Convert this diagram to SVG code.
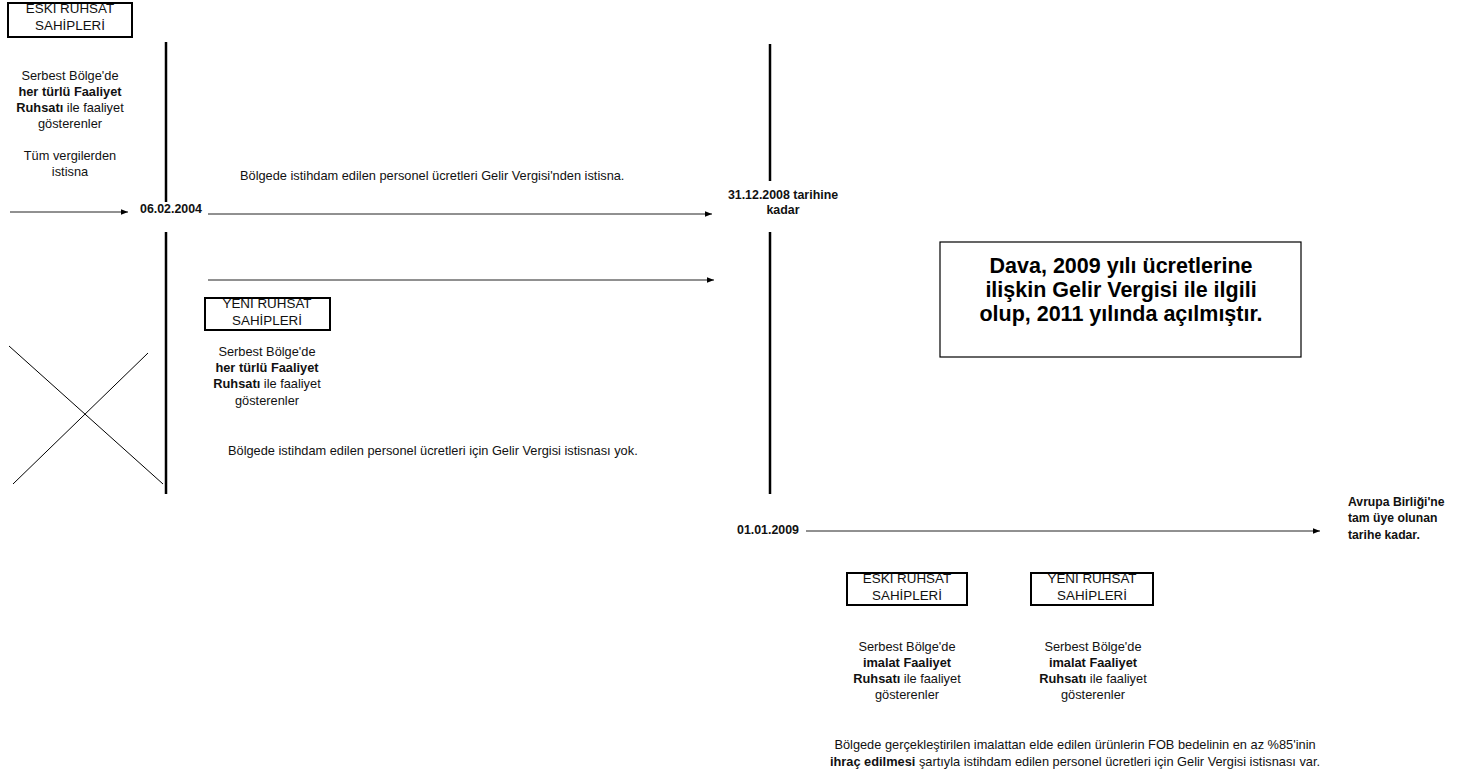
<svg xmlns="http://www.w3.org/2000/svg" width="1458" height="776" viewBox="0 0 1458 776">
<defs>
<marker id="ah" viewBox="0 0 10 10" refX="10" refY="5" markerWidth="7" markerHeight="7" markerUnits="userSpaceOnUse" orient="auto">
<path d="M0,1 L10,5 L0,9 z" fill="#000"/>
</marker>
<style>
text{font-family:"Liberation Sans",Arial,sans-serif;font-size:12.8px;fill:#111}
.c{text-anchor:middle}
.b{font-weight:bold}
.d{font-weight:bold;font-size:12.4px}
.hd{font-size:13.4px;text-anchor:middle}
.box{fill:#fff;stroke:#000;stroke-width:2}
.vl{stroke:#000;stroke-width:2.5;fill:none}
.ar{stroke:#222;stroke-width:1;fill:none;marker-end:url(#ah)}
.xl{stroke:#000;stroke-width:1;fill:none}
.big{font-size:21.5px;font-weight:bold;text-anchor:middle;fill:#000}
</style>
</defs>
<rect width="1458" height="776" fill="#fff"/>

<g id="connectors">
<line class="vl" x1="166" y1="42" x2="166" y2="202"/>
<line class="vl" x1="166" y1="232" x2="166" y2="494"/>
<line class="vl" x1="770" y1="44" x2="770" y2="181"/>
<line class="vl" x1="770" y1="232" x2="770" y2="494"/>
<line class="ar" x1="10" y1="212" x2="128" y2="212"/>
<line class="ar" x1="208" y1="214" x2="712" y2="214"/>
<line class="ar" x1="208" y1="280" x2="714" y2="280"/>
<line class="ar" x1="806" y1="531" x2="1320" y2="531"/>
<line class="xl" x1="9" y1="346" x2="163" y2="484"/>
<line class="xl" x1="148" y1="353" x2="13" y2="484"/>
</g>

<g id="eski-top">
<rect class="box" x="8" y="3" width="124" height="34"/>
<text class="hd" x="70" y="13">ESKİ RUHSAT</text>
<text class="hd" x="70" y="30">SAHİPLERİ</text>
</g>

<g id="eski-top-desc">
<text class="c" x="70" y="80">Serbest Bölge'de</text>
<text class="c b" x="70" y="96">her türlü Faaliyet</text>
<text class="c" x="70" y="112"><tspan class="b">Ruhsatı</tspan> ile faaliyet</text>
<text class="c" x="70" y="128">gösterenler</text>
<text class="c" x="70" y="160">Tüm vergilerden</text>
<text class="c" x="70" y="176">istisna</text>
</g>

<g id="date-2004"><text class="d" x="140" y="213">06.02.2004</text></g>
<g id="note-istisna"><text x="240" y="180">Bölgede istihdam edilen personel ücretleri Gelir Vergisi'nden istisna.</text></g>

<g id="date-2008">
<text class="c d" x="783" y="199">31.12.2008 tarihine</text>
<text class="c d" x="783" y="214">kadar</text>
</g>

<g id="yeni-mid">
<rect class="box" x="205" y="298" width="125" height="32"/>
<text class="hd" x="267" y="308">YENİ RUHSAT</text>
<text class="hd" x="267" y="325">SAHİPLERİ</text>
</g>

<g id="yeni-mid-desc">
<text class="c" x="267" y="356">Serbest Bölge'de</text>
<text class="c b" x="267" y="372">her türlü Faaliyet</text>
<text class="c" x="267" y="388"><tspan class="b">Ruhsatı</tspan> ile faaliyet</text>
<text class="c" x="267" y="405">gösterenler</text>
</g>

<g id="note-yok"><text x="228" y="455">Bölgede istihdam edilen personel ücretleri için Gelir Vergisi istisnası yok.</text></g>

<g id="dava-box">
<rect x="940" y="242" width="361" height="115" fill="#fff" stroke="#000" stroke-width="1.2"/>
<text class="big" x="1121" y="273">Dava, 2009 yılı ücretlerine</text>
<text class="big" x="1121" y="297">ilişkin Gelir Vergisi ile ilgili</text>
<text class="big" x="1121" y="321">olup, 2011 yılında açılmıştır.</text>
</g>

<g id="date-2009"><text class="d" x="737" y="534">01.01.2009</text></g>

<g id="ab">
<text class="b" x="1348" y="506" style="font-size:12.2px">Avrupa Birliği'ne</text>
<text class="b" x="1348" y="522" style="font-size:12.2px">tam üye olunan</text>
<text class="b" x="1348" y="539" style="font-size:12.2px">tarihe kadar.</text>
</g>

<g id="eski-bottom">
<rect class="box" x="847" y="573" width="120" height="32"/>
<text class="hd" x="907" y="583">ESKİ RUHSAT</text>
<text class="hd" x="907" y="600">SAHİPLERİ</text>
</g>

<g id="yeni-bottom">
<rect class="box" x="1031" y="573" width="122" height="32"/>
<text class="hd" x="1092" y="583">YENİ RUHSAT</text>
<text class="hd" x="1092" y="600">SAHİPLERİ</text>
</g>

<g id="eski-bottom-desc">
<text class="c" x="907" y="651">Serbest Bölge'de</text>
<text class="c b" x="907" y="667">imalat Faaliyet</text>
<text class="c" x="907" y="683"><tspan class="b">Ruhsatı</tspan> ile faaliyet</text>
<text class="c" x="907" y="699">gösterenler</text>
</g>

<g id="yeni-bottom-desc">
<text class="c" x="1093" y="651">Serbest Bölge'de</text>
<text class="c b" x="1093" y="667">imalat Faaliyet</text>
<text class="c" x="1093" y="683"><tspan class="b">Ruhsatı</tspan> ile faaliyet</text>
<text class="c" x="1093" y="699">gösterenler</text>
</g>

<g id="note-var">
<text class="c" x="1075" y="749">Bölgede gerçekleştirilen imalattan elde edilen ürünlerin FOB bedelinin en az %85'inin</text>
<text class="c" x="1075" y="766"><tspan class="b">ihraç edilmesi</tspan> şartıyla istihdam edilen personel ücretleri için Gelir Vergisi istisnası var.</text>
</g>
</svg>
